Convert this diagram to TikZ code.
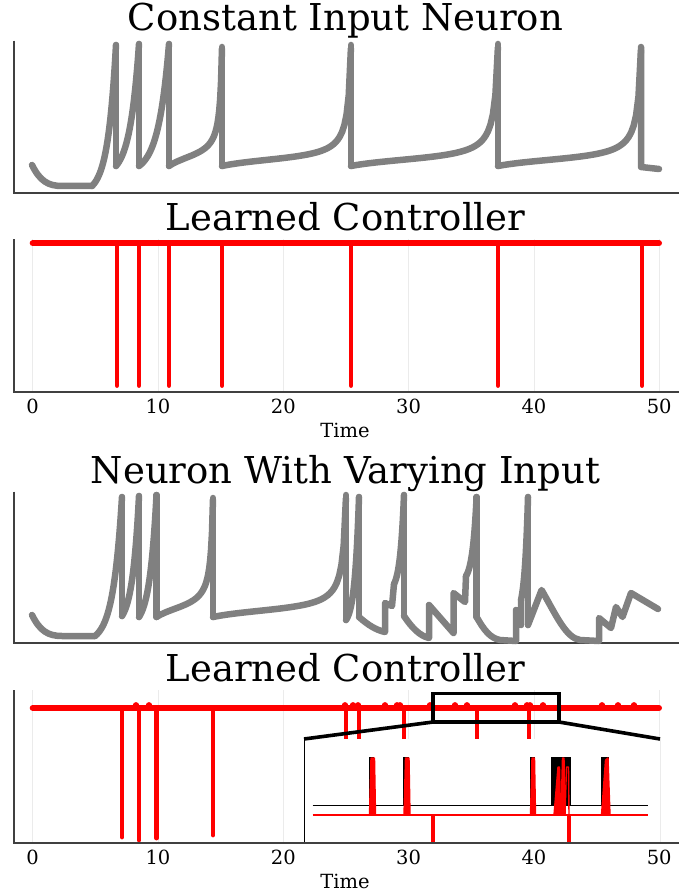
\documentclass[tikz,border=0pt]{standalone}
\usepackage{fontspec}
\setmainfont{DejaVu Serif}
\begin{document}
\begin{tikzpicture}[x=1pt,y=-1pt,
  neuron/.style={line width=6.5pt,color=gray,line cap=round,line join=round},
  ctrl/.style={line width=6pt,color=red,line cap=round},
  drop/.style={line width=4.8pt,color=red,line cap=round},
  spine/.style={line width=1.3pt,color=black!75},
  grid/.style={line width=0.8pt,color=black!8},
  zoombox/.style={line width=3.6pt,color=black,line join=miter},
  pulse/.style={red,line width=1.4pt,line join=round},
  title/.style={font=\fontsize{37}{40}\selectfont,anchor=base},
  ticklabel/.style={font=\fontsize{19.5}{22}\selectfont,anchor=base}]
  \newcommand{\tanSeg}[6]{%
    \draw[neuron] plot[domain=0:1,samples=60,variable=\sv]
      ({#1+\sv*(#2-#1)},{#3-(#3-#4)*(tan(#5+\sv*(#6-(#5)))-tan(#5))/(tan(#6)-tan(#5))});
  }
  \newcommand{\expSeg}[5]{%
    \draw[neuron] plot[domain=0:1,samples=40,variable=\sv]
      ({#1+\sv*(#2-#1)},{#3-(#3-#4)*(exp(#5*\sv)-1)/(exp(#5)-1)});
  }
  \newcommand{\spikeDrop}[3]{%
    \draw[neuron] (#1,#2) -- (#1,#3);
  }
  \fill[white] (0,0) rectangle (698,896);
  \useasboundingbox (0,0) rectangle (698,896);

  % constant input neuron
  \node[title] (titleA) at (345.5,31) {Constant Input Neuron};
  \draw[spine] (14,40.7) -- (14,193) -- (679,193);
  \draw[neuron] (32,165) .. controls (40,181) and (48,186) .. (62,186) -- (92,186);
  \expSeg{92}{116}{186}{45}{2.9}
  \spikeDrop{116}{45}{166}
  \expSeg{116}{139}{166}{44}{2.5}
  \spikeDrop{139}{44}{166}
  \expSeg{139}{169}{166}{44}{2.8}
  \spikeDrop{169}{44}{166}
  \tanSeg{169}{222}{166}{47}{-40}{85}
  \spikeDrop{222}{47}{166}
  \tanSeg{222}{351}{166}{45}{-45}{87}
  \spikeDrop{351}{45}{166}
  \tanSeg{351}{498}{166}{44}{-45}{87}
  \spikeDrop{498}{44}{166}
  \tanSeg{498}{641}{166}{47}{-45}{87}
  \draw[neuron] (641,47) -- (641,167) -- (659,169);

  % learned controller, constant input
  \node[title] (titleB) at (345.5,230.7) {Learned Controller};
  \foreach \tv in {0,10,...,50}
    \draw[grid] ({32.7+12.53*\tv},239) -- ({32.7+12.53*\tv},392);
  \draw[ctrl] (32.7,243.3) -- (659,243.3);
  \foreach \x in {117,139,169,222,351,498,642}
    \draw[drop] (\x,243.3) -- (\x,385.5);
  \draw[spine] (14,239) -- (14,392) -- (679,392);
  \foreach \tv in {0,10,...,50}
    \node[ticklabel] (tickB\tv) at ({32.7+12.53*\tv},413.3) {\tv};
  \node[ticklabel] (timeB) at (345,437) {Time};

  % neuron with varying input
  \node[title] (titleC) at (345.5,483) {Neuron With Varying Input};
  \draw[spine] (14,491.7) -- (14,643) -- (679,643);
  \draw[neuron] (32,615) .. controls (40,631) and (48,636) .. (62,636) -- (95,636);
  \expSeg{95}{122}{636}{497}{3}
  \spikeDrop{122}{497}{616}
  \expSeg{122}{139}{616}{496}{2.5}
  \spikeDrop{139}{496}{617}
  \expSeg{139}{156.5}{617}{495}{2.5}
  \spikeDrop{156.5}{495}{617}
  \tanSeg{156.5}{213}{617}{498}{-40}{85}
  \spikeDrop{213}{498}{617}
  \tanSeg{213}{346}{617}{495}{-45}{87}
  \spikeDrop{346}{495}{620}
  \expSeg{346}{359}{620}{497}{3}
  \spikeDrop{359}{497}{617}
  \draw[neuron] (359,617) .. controls (368,625) and (376,630) .. (385,632)
    -- (385,603) -- (392,606) -- (394,584);
  \expSeg{394}{404}{584}{495}{2.5}
  \spikeDrop{404}{495}{616}
  \draw[neuron] (404,616) .. controls (412,628) and (420,636) .. (429,638)
    -- (429,605) -- (453.5,633) -- (453.5,593) -- (465,602) -- (466,576);
  \expSeg{466}{476.6}{576}{497}{2.5}
  \spikeDrop{476.6}{497}{617}
  \draw[neuron] (476.6,617) .. controls (484,630) and (490,638) .. (500,640)
    -- (516,641) -- (516,610) -- (521,625) -- (521,600);
  \expSeg{521}{528}{600}{497}{2}
  \spikeDrop{528}{497}{625}
  \draw[neuron] (528,625) -- (541.6,590) .. controls (556,615) and (566,638) .. (580,640)
    -- (599,641) -- (599,618) -- (611,628) -- (616,607) -- (622.5,617) -- (631,593) -- (658,609);

  % learned controller, varying input
  \node[title] (titleD) at (345.5,681) {Learned Controller};
  \foreach \tv in {0,10,...,50}
    \draw[grid] ({32.7+12.53*\tv},690) -- ({32.7+12.53*\tv},843);
  \draw[ctrl] (32.7,708) -- (659,708);
  \foreach \x/\b in {122/837,139/840,156.5/838,213/835}
    \draw[drop] (\x,708) -- (\x,\b);
  \foreach \x in {346,359,404,477,529}
    \draw[drop] (\x,708) -- (\x,760);
  \foreach \x in {136,149,345,353,358,385,397,400,430,455,467,515,527,530,543,602,618,634}
    \fill[red] (\x,705.3) circle (3.2);
  % zoomed inset
  \coordinate (boxNW) at (433,693.5);
  \coordinate (boxSW) at (433,722);
  \coordinate (boxSE) at (559,722);
  \coordinate (insetNW) at (304,739);
  \coordinate (insetNE) at (660,739);
  \fill[white] (insetNW) rectangle (660,843);
  \draw[line width=0.8pt] (insetNW) -- (304,843);
  \draw[grid] (insetNE) -- (660,843);
  \draw[zoombox] (boxNW) rectangle (boxSE);
  \draw[zoombox] (boxSW) -- (insetNW);
  \draw[zoombox] (boxSE) -- (insetNE);
  \draw[line width=1.5pt] (312.7,805.5) -- (648,805.5);
  \foreach \a/\b in {369/374,403/408.5,530/534.5,601/609}
    \fill (\a,756.5) rectangle (\b,805.5);
  \fill (551,756.5) rectangle (570.7,805.5);
  \draw[red,line width=2pt] (312.7,815) -- (648,815);
  \foreach \a/\b in {369.5/375.5,404/410,530.5/535.5}
    \filldraw[pulse] (\a,815) -- ({\a+1.5},758) -- ({\b-1},758) -- (\b,815) -- cycle;
  \filldraw[pulse] (601.5,815) -- (605.5,760) -- (608,758) -- (610,815) -- cycle;
  \filldraw[pulse] (554,815) -- (558,767) -- (559.5,767) -- (560.5,815) -- cycle;
  \filldraw[pulse] (561,815) -- (562.5,758) -- (564,758) -- (565,815) -- cycle;
  \draw[pulse] (565,815) -- (566.5,767) -- (568.5,767) -- (569,815);
  \draw[red,line width=4pt] (432.7,815) -- (432.7,843);
  \draw[red,line width=4pt] (569,815) -- (569,843);
  \draw[spine] (14,690) -- (14,843) -- (679,843);
  \foreach \tv in {0,10,...,50}
    \node[ticklabel] (tickD\tv) at ({32.7+12.53*\tv},864) {\tv};
  \node[ticklabel] (timeD) at (345,888) {Time};
\end{tikzpicture}
\end{document}
